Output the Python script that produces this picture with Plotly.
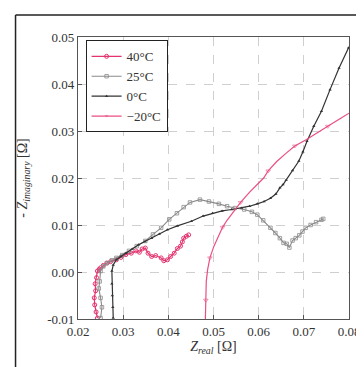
import plotly.graph_objects as go

# ---- data ----
x_40 = [0.0243, 0.0240, 0.0237, 0.0236, 0.0239, 0.0238, 0.0241, 0.0243, 0.0247, 0.0250, 0.0256, 0.0264,
        0.0272, 0.0285, 0.0295, 0.0306, 0.0318, 0.0328, 0.0336, 0.0342, 0.0349, 0.0355, 0.0363, 0.0372,
        0.0384, 0.0390, 0.0398, 0.0405, 0.0413, 0.0420, 0.0427, 0.0431, 0.0434, 0.0440, 0.0445]
y_40 = [-0.0098, -0.0085, -0.0070, -0.0055, -0.0040, -0.0025, -0.0012, 0.0002, 0.0006, 0.0009, 0.0014, 0.0019,
        0.0022, 0.0026, 0.0031, 0.0037, 0.0040, 0.0045, 0.0042, 0.0049, 0.0051, 0.0040, 0.0033, 0.0035,
        0.0030, 0.0024, 0.0026, 0.0033, 0.0040, 0.0050, 0.0055, 0.0064, 0.0072, 0.0076, 0.0079]

x_25 = [0.0250, 0.0253, 0.0250, 0.0246, 0.0248, 0.0250, 0.0256, 0.0264, 0.0275, 0.0285, 0.0298, 0.0313,
        0.0330, 0.0349, 0.0366, 0.0384, 0.0402, 0.0419, 0.0434, 0.0448, 0.0470, 0.0490, 0.0512, 0.0530,
        0.0547, 0.0568, 0.0585, 0.0597, 0.0610, 0.0626, 0.0637, 0.0647, 0.0655, 0.0662, 0.0668, 0.0675,
        0.0682, 0.0690, 0.0697, 0.0704, 0.0715, 0.0727, 0.0739, 0.0743]
y_25 = [-0.0098, -0.0075, -0.0055, -0.0035, -0.0020, 0.0002, 0.0012, 0.0019, 0.0025, 0.0030, 0.0036, 0.0045,
        0.0055, 0.0066, 0.0080, 0.0094, 0.0112, 0.0125, 0.0138, 0.0148, 0.0154, 0.0150, 0.0145, 0.0140,
        0.0136, 0.0133, 0.0128, 0.0122, 0.0110, 0.0094, 0.0083, 0.0072, 0.0062, 0.0060, 0.0052, 0.0067,
        0.0072, 0.0078, 0.0086, 0.0094, 0.0100, 0.0106, 0.0111, 0.0113]

x_0 = [0.0278, 0.0277, 0.0276, 0.0275, 0.0275, 0.0278, 0.0285, 0.0295, 0.0306, 0.0320, 0.0334, 0.0348,
       0.0363, 0.0380, 0.0398, 0.0420, 0.0451, 0.0477, 0.0498, 0.0519, 0.0540, 0.0562, 0.0580, 0.0597,
       0.0612, 0.0626, 0.0638, 0.0647, 0.0654, 0.0661, 0.0675, 0.0689, 0.0698, 0.0707, 0.0722, 0.0739,
       0.0758, 0.0778, 0.0799]
y_0 = [-0.0098, -0.0075, -0.0050, -0.0025, 0.0002, 0.0015, 0.0026, 0.0033, 0.0040, 0.0049, 0.0058, 0.0065,
       0.0072, 0.0081, 0.0090, 0.0098, 0.0108, 0.0119, 0.0125, 0.0130, 0.0133, 0.0136, 0.0140, 0.0145,
       0.0150, 0.0157, 0.0166, 0.0179, 0.0186, 0.0196, 0.0216, 0.0236, 0.0256, 0.0278, 0.0310, 0.0342,
       0.0388, 0.0434, 0.0477]

x_m20 = [0.0482, 0.0483, 0.0484, 0.0487, 0.0492, 0.0501, 0.0510, 0.0520, 0.0530, 0.0545, 0.0560, 0.0580,
         0.0611, 0.0621, 0.0640, 0.0661, 0.0680, 0.0706, 0.0730, 0.0753, 0.0780, 0.0800]
y_m20 = [-0.0100, -0.0060, -0.0020, 0.0005, 0.0030, 0.0055, 0.0075, 0.0095, 0.0110, 0.0130, 0.0148, 0.0170,
         0.0200, 0.0215, 0.0235, 0.0253, 0.0268, 0.0282, 0.0297, 0.0310, 0.0326, 0.0338]

series_names = ["40°C", "25°C", "0°C", "−20°C"]
x_ticks = [0.02, 0.03, 0.04, 0.05, 0.06, 0.07, 0.08]
x_ticktext = ["0.02", "0.03", "0.04", "0.05", "0.06", "0.07", "0.08"]
y_ticks = [-0.01, 0.0, 0.01, 0.02, 0.03, 0.04, 0.05]
y_ticktext = ["-0.01", "0.00", "0.01", "0.02", "0.03", "0.04", "0.05"]

PINK = "#e4336f"
PINK2 = "#ea4f82"
GREY = "#8a8a8a"
DARK = "#333333"

fig = go.Figure()
fig.add_trace(go.Scatter(x=x_40, y=y_40, name=series_names[0], mode="lines+markers",
                         line=dict(color=PINK, width=1.2),
                         marker=dict(symbol="circle-open", size=4, color=PINK, line=dict(width=1))))
fig.add_trace(go.Scatter(x=x_25, y=y_25, name=series_names[1], mode="lines+markers",
                         line=dict(color=GREY, width=1.1),
                         marker=dict(symbol="square-open", size=3.5, color=GREY, line=dict(width=0.8))))
fig.add_trace(go.Scatter(x=x_0, y=y_0, name=series_names[2], mode="lines+markers",
                         line=dict(color=DARK, width=1.2),
                         marker=dict(symbol="triangle-up", size=3, color=DARK, line=dict(width=0))))
m20_sizes = [4 if i % 3 == 1 else 0 for i in range(len(x_m20))]
fig.add_trace(go.Scatter(x=x_m20, y=y_m20, name=series_names[3], mode="lines+markers",
                         line=dict(color=PINK2, width=1.2),
                         marker=dict(symbol="triangle-down-open", size=m20_sizes, color=PINK2,
                                     line=dict(width=0.8))))

FONT = "Liberation Serif"

axis_common = dict(showline=True, mirror=True, linecolor="#555555", linewidth=1.2,
                   ticks="inside", ticklen=4, tickcolor="#555555",
                   showgrid=True, gridcolor="#cfcfcf", griddash="dash", gridwidth=1,
                   zeroline=False, tickfont=dict(family=FONT, size=13, color="#333333"))

fig.update_layout(
    width=364, height=367,
    margin=dict(l=70, r=12, t=29, b=56),
    paper_bgcolor="white", plot_bgcolor="white",
    font=dict(family=FONT, size=13, color="#333333"),
    xaxis=dict(range=[0.02, 0.08], tickvals=x_ticks, ticktext=x_ticktext,
               title=dict(text="<i>Z</i><sub><i>real</i></sub> [Ω]", standoff=2,
                          font=dict(family=FONT, size=14)),
               **axis_common),
    yaxis=dict(range=[-0.01, 0.05], tickvals=y_ticks, ticktext=y_ticktext,
               title=dict(text="- <i>Z</i><sub><i>imaginary</i></sub> [Ω]", standoff=16,
                          font=dict(family=FONT, size=14)),
               **axis_common),
    showlegend=True,
    legend=dict(x=0.028, y=0.988, xanchor="left", yanchor="top",
                bgcolor="white", bordercolor="#222222", borderwidth=1,
                font=dict(family=FONT, size=13, color="#333333"),
                tracegroupgap=0, itemwidth=30),
    shapes=[
        dict(type="line", xref="paper", yref="paper", x0=(5 - 70) / 282, x1=(5 - 70) / 282,
             y0=-0.3, y1=(311 - 7) / 282, line=dict(color="#222222", width=1.5)),
        dict(type="line", xref="paper", yref="paper", x0=(5 - 70) / 282, x1=1.2,
             y0=(311 - 7) / 282, y1=(311 - 7) / 282, line=dict(color="#222222", width=1.5)),
    ],
)

fig.write_html("out.html")
